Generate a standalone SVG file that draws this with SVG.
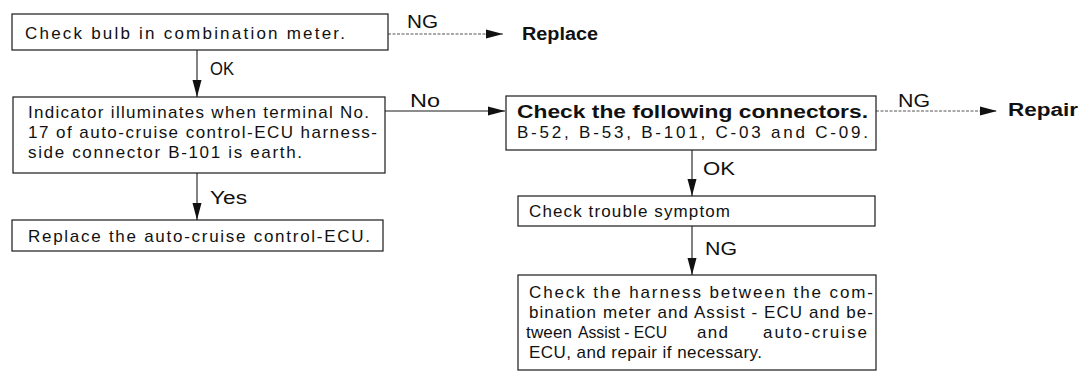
<svg xmlns="http://www.w3.org/2000/svg" width="1082" height="372" viewBox="0 0 1082 372">
  <defs>
    <style>
      .box { fill: #ffffff; stroke: #1a1a1a; stroke-width: 1.2; }
      .txt { font-family: "Liberation Sans", Arial, sans-serif; font-size: 17px; fill: #111111; }
      .lbl { font-family: "Liberation Sans", Arial, sans-serif; font-size: 18px; fill: #111111; }
      .bold { font-weight: bold; font-size: 18px; }
      .wire { stroke: #1a1a1a; stroke-width: 1.1; fill: none; }
      .dot { stroke: #555555; stroke-width: 1; stroke-dasharray: 3 1.5; fill: none; }
    </style>
    <marker id="arrow" markerUnits="userSpaceOnUse" markerWidth="18" markerHeight="10" refX="17" refY="5" orient="auto">
      <path d="M0,0.5 L17,5 L0,9.5 Z" fill="#111111"/>
    </marker>
  </defs>
  <rect width="1082" height="372" fill="#ffffff"/>

  <g id="connectors">
    <line class="wire" x1="197" y1="50" x2="197" y2="97" marker-end="url(#arrow)"/>
    <line class="dot" x1="388" y1="34" x2="503" y2="34" marker-end="url(#arrow)"/>
    <line class="wire" x1="385" y1="111" x2="505" y2="111" marker-end="url(#arrow)"/>
    <line class="wire" x1="197" y1="173" x2="197" y2="220" marker-end="url(#arrow)"/>
    <line class="dot" x1="876" y1="111" x2="997" y2="111" marker-end="url(#arrow)"/>
    <line class="wire" x1="692" y1="150" x2="692" y2="196" marker-end="url(#arrow)"/>
    <line class="wire" x1="692" y1="226" x2="692" y2="275" marker-end="url(#arrow)"/>
    <text class="lbl" x="407" y="28" textLength="31" lengthAdjust="spacingAndGlyphs">NG</text>
    <text class="lbl bold" x="522" y="40" textLength="76" lengthAdjust="spacingAndGlyphs">Replace</text>
    <text class="lbl" x="210" y="75" textLength="24" lengthAdjust="spacingAndGlyphs">OK</text>
    <text class="lbl" x="410" y="107" textLength="30" lengthAdjust="spacingAndGlyphs">No</text>
    <text class="lbl" x="210" y="204" textLength="37" lengthAdjust="spacingAndGlyphs">Yes</text>
    <text class="lbl" x="898" y="107" textLength="32" lengthAdjust="spacingAndGlyphs">NG</text>
    <text class="lbl bold" x="1008" y="116" textLength="70" lengthAdjust="spacingAndGlyphs">Repair</text>
    <text class="lbl" x="703" y="175" textLength="32" lengthAdjust="spacingAndGlyphs">OK</text>
    <text class="lbl" x="705" y="255" textLength="32" lengthAdjust="spacingAndGlyphs">NG</text>
  </g>

  <g id="check-bulb">
    <rect class="box" x="12" y="14" width="376" height="36"/>
    <text class="txt" x="25" y="39" textLength="320">Check bulb in combination meter.</text>
  </g>

  <g id="indicator-test">
    <rect class="box" x="13" y="97" width="372" height="76"/>
    <text class="txt" x="28" y="118" textLength="341">Indicator illuminates when terminal No.</text>
    <text class="txt" x="28" y="138" textLength="349">17 of auto-cruise control-ECU harness-</text>
    <text class="txt" x="28" y="158" textLength="274">side connector B-101 is earth.</text>
  </g>

  <g id="replace-ecu">
    <rect class="box" x="12" y="220" width="371" height="31"/>
    <text class="txt" x="28" y="242" textLength="342">Replace the auto-cruise control-ECU.</text>
  </g>

  <g id="check-connectors">
    <rect class="box" x="506" y="96" width="370" height="54"/>
    <text class="txt bold" x="517" y="118" textLength="351" lengthAdjust="spacingAndGlyphs">Check the following connectors.</text>
    <text class="txt" x="517" y="138" textLength="351">B-52, B-53, B-101, C-03 and C-09.</text>
  </g>

  <g id="check-symptom">
    <rect class="box" x="518" y="196" width="357" height="30"/>
    <text class="txt" x="529" y="217" textLength="201">Check trouble symptom</text>
  </g>

  <g id="check-harness">
    <rect class="box" x="518" y="275" width="358" height="95"/>
    <text class="txt" x="529" y="298" textLength="344">Check the harness between the com-</text>
    <text class="txt" x="529" y="318" textLength="344">bination meter and Assist - ECU and be-</text>
    <!-- justified line: words placed one by one -->
    <text class="txt" x="526" y="338" textLength="46">tween</text>
    <text class="txt" x="578" y="338" textLength="89" lengthAdjust="spacingAndGlyphs">Assist - ECU</text>
    <text class="txt" x="697" y="338" textLength="31">and</text>
    <text class="txt" x="763" y="338" textLength="104">auto-cruise</text>
    <text class="txt" x="529" y="358" textLength="233">ECU, and repair if necessary.</text>
  </g>
</svg>
